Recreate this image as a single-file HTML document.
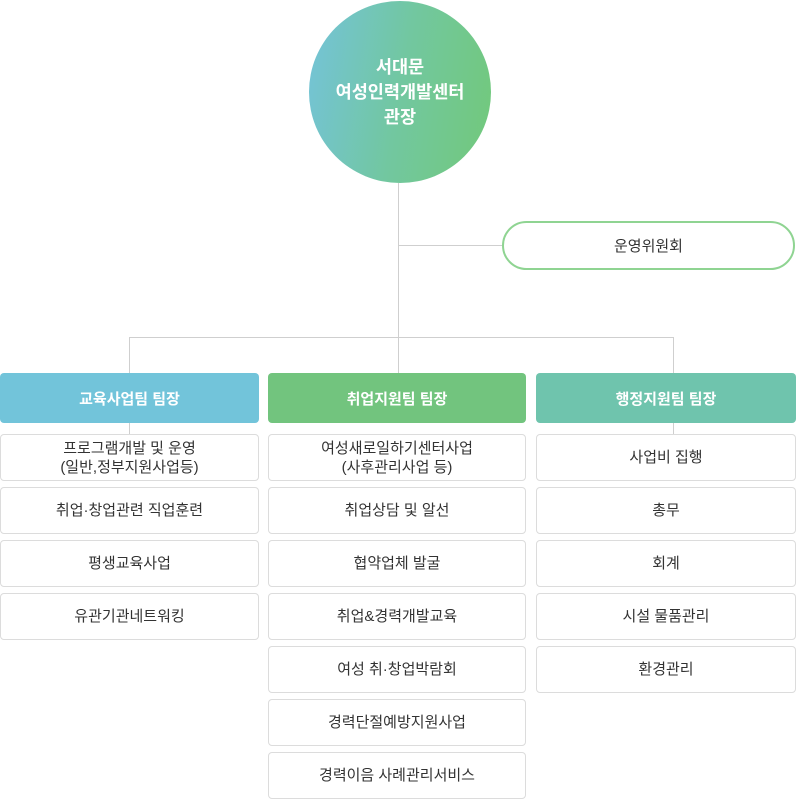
<!DOCTYPE html>
<html><head><meta charset="utf-8">
<style>
*{margin:0;padding:0;box-sizing:border-box}
body{width:796px;height:800px;background:#fff;position:relative;overflow:hidden;font-family:"Liberation Sans","Noto Sans CJK KR",sans-serif}
.ab{position:absolute}
.line{position:absolute;background:#cfcfcf}
.circle{left:309px;top:1px;width:182px;height:182px;border-radius:50%;background:linear-gradient(100deg,#74c3da 0%,#72c7a0 50%,#72c97a 100%);color:#fff;font-size:17.5px;font-weight:bold;text-align:center;display:flex;align-items:center;justify-content:center;line-height:25px}
.comm{left:502px;top:221px;width:293px;height:49px;border:2px solid #8fd492;border-radius:25px;display:flex;align-items:center;justify-content:center;font-size:15px;color:#333}
.hd{position:absolute;top:373px;height:50px;border-radius:4px;color:#fff;font-weight:bold;font-size:15px;display:flex;align-items:center;justify-content:center}
.it{position:absolute;height:47px;border:1px solid #dcdcdc;border-radius:4px;background:#fff;display:flex;align-items:center;justify-content:center;text-align:center;font-size:15px;color:#333;line-height:19px}
</style></head><body>
<div class="line" style="left:398px;top:183px;width:1px;height:190px"></div>
<div class="line" style="left:398px;top:245px;width:104px;height:1px"></div>
<div class="line" style="left:129px;top:337px;width:545px;height:1px"></div>
<div class="line" style="left:129px;top:337px;width:1px;height:97px"></div>
<div class="line" style="left:673px;top:337px;width:1px;height:97px"></div>
<div class="ab circle">서대문<br>여성인력개발센터<br>관장</div>
<div class="ab comm">운영위원회</div>

<div class="hd" style="left:0;width:259px;background:#72c4da">교육사업팀 팀장</div>
<div class="hd" style="left:268px;width:258px;background:#72c47e">취업지원팀 팀장</div>
<div class="hd" style="left:536px;width:260px;background:#6fc4ad">행정지원팀 팀장</div>

<div class="it" style="left:0;width:259px;top:434px">프로그램개발 및 운영<br>(일반,정부지원사업등)</div>
<div class="it" style="left:0;width:259px;top:487px">취업·창업관련 직업훈련</div>
<div class="it" style="left:0;width:259px;top:540px">평생교육사업</div>
<div class="it" style="left:0;width:259px;top:593px">유관기관네트워킹</div>

<div class="it" style="left:268px;width:258px;top:434px">여성새로일하기센터사업<br>(사후관리사업 등)</div>
<div class="it" style="left:268px;width:258px;top:487px">취업상담 및 알선</div>
<div class="it" style="left:268px;width:258px;top:540px">협약업체 발굴</div>
<div class="it" style="left:268px;width:258px;top:593px">취업&amp;경력개발교육</div>
<div class="it" style="left:268px;width:258px;top:646px">여성 취·창업박람회</div>
<div class="it" style="left:268px;width:258px;top:699px">경력단절예방지원사업</div>
<div class="it" style="left:268px;width:258px;top:752px">경력이음 사례관리서비스</div>

<div class="it" style="left:536px;width:260px;top:434px">사업비 집행</div>
<div class="it" style="left:536px;width:260px;top:487px">총무</div>
<div class="it" style="left:536px;width:260px;top:540px">회계</div>
<div class="it" style="left:536px;width:260px;top:593px">시설 물품관리</div>
<div class="it" style="left:536px;width:260px;top:646px">환경관리</div>
</body></html>
